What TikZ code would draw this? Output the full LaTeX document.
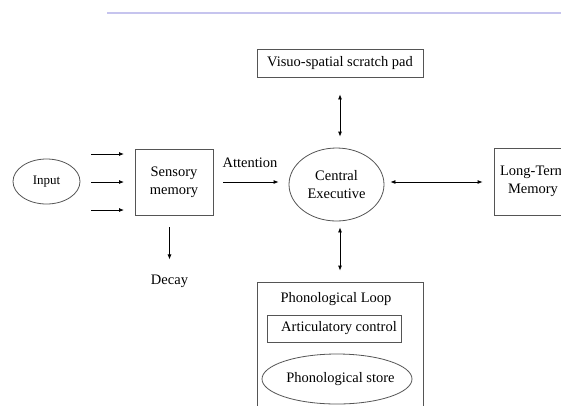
\documentclass[tikz,border=0pt]{standalone}
\usepackage{fontspec}
\setmainfont{Liberation Serif}
\usetikzlibrary{arrows.meta,shapes.geometric}
\definecolor{topline}{RGB}{198,196,238}
\definecolor{shapeline}{RGB}{85,85,85}
\tikzset{
  txt/.style={font=\fontsize{14.5}{18}\selectfont, inner sep=0pt, align=center},
  boxnode/.style={draw=shapeline, line width=0.8pt, rectangle, inner sep=0pt, align=center, font=\fontsize{14.5}{18}\selectfont},
  ellnode/.style={draw=shapeline, line width=0.8pt, ellipse, inner sep=0pt, align=center, font=\fontsize{14.5}{18}\selectfont},
  arr/.style={-{Latex[length=5pt,width=4pt]}, line width=0.8pt, black},
  darr/.style={{Latex[length=5pt,width=4pt]}-{Latex[length=5pt,width=4pt]}, line width=0.8pt, black}
}
\begin{document}
\begin{tikzpicture}[x=1pt,y=-1pt]
\useasboundingbox (0,0) rectangle (561,405);
\clip (0,0) rectangle (561,405);
\fill[white] (0,0) rectangle (561,405);
% top rule
\coordinate (ruleA) at (107,13);
\coordinate (ruleB) at (561,13);
\draw[topline, line width=2pt] (ruleA) -- (ruleB);

% nodes
\node[boxnode, minimum width=166pt, minimum height=28pt] (visuo) at (340,63) {Visuo-spatial scratch pad};
\node[ellnode, minimum width=67pt, minimum height=45pt, font=\fontsize{13}{16}\selectfont] (input) at (46.5,181.5) {Input};
\node[boxnode, minimum width=78pt, minimum height=66pt] (sensory) at (174,182) {Sensory\\memory};
\node[ellnode, minimum width=95pt, minimum height=73pt] (ce) at (336.5,184.5) {};
\node[txt] (cetxt) at (ce.center) {Central\\Executive};
\node[boxnode, minimum width=78pt, minimum height=67pt] (ltm) at (533,181.5) {Long-Term\\Memory};
\node[txt] (decay) at (169.5,281) {Decay};
\node[txt] (attn) at (250,163) {Attention};
\node[boxnode, minimum width=166pt, minimum height=140pt] (phono) at (340,352) {};
\node[txt] (ploop) at (336,299) {Phonological Loop};
\node[boxnode, minimum width=134pt, minimum height=27pt] (artic) at (334,328.5) {};
\node[txt] (artictxt) at (339,328.5) {Articulatory control};
\node[ellnode, minimum width=150pt, minimum height=50pt] (store) at (337,379) {};
\node[txt] (storetxt) at (340.5,379.5) {Phonological store};

% input arrows
\coordinate (i1s) at (91,154);  \coordinate (i1e) at (124,154);
\coordinate (i2s) at (91,182);  \coordinate (i2e) at (124,182);
\coordinate (i3s) at (91,210);  \coordinate (i3e) at (124,210);
\draw[arr] (i1s) -- (i1e);
\draw[arr] (i2s) -- (i2e);
\draw[arr] (i3s) -- (i3e);

% connectors
\draw[arr, shorten <=10pt, shorten >=10pt] (sensory.east |- 0,182) -- (ce.west |- 0,182);
\draw[arr, shorten <=12pt, shorten >=15pt] (sensory.south -| decay.north) -- (decay.north);
\draw[darr, shorten <=17pt, shorten >=11pt] (visuo.south) -- (ce.north -| visuo.south);
\draw[darr, shorten <=6pt, shorten >=11pt] (ce.east |- 0,182) -- (ltm.west |- 0,182);
\draw[darr, shorten <=6pt, shorten >=11pt] (ce.south -| visuo.south) -- (phono.north);
\end{tikzpicture}
\end{document}
